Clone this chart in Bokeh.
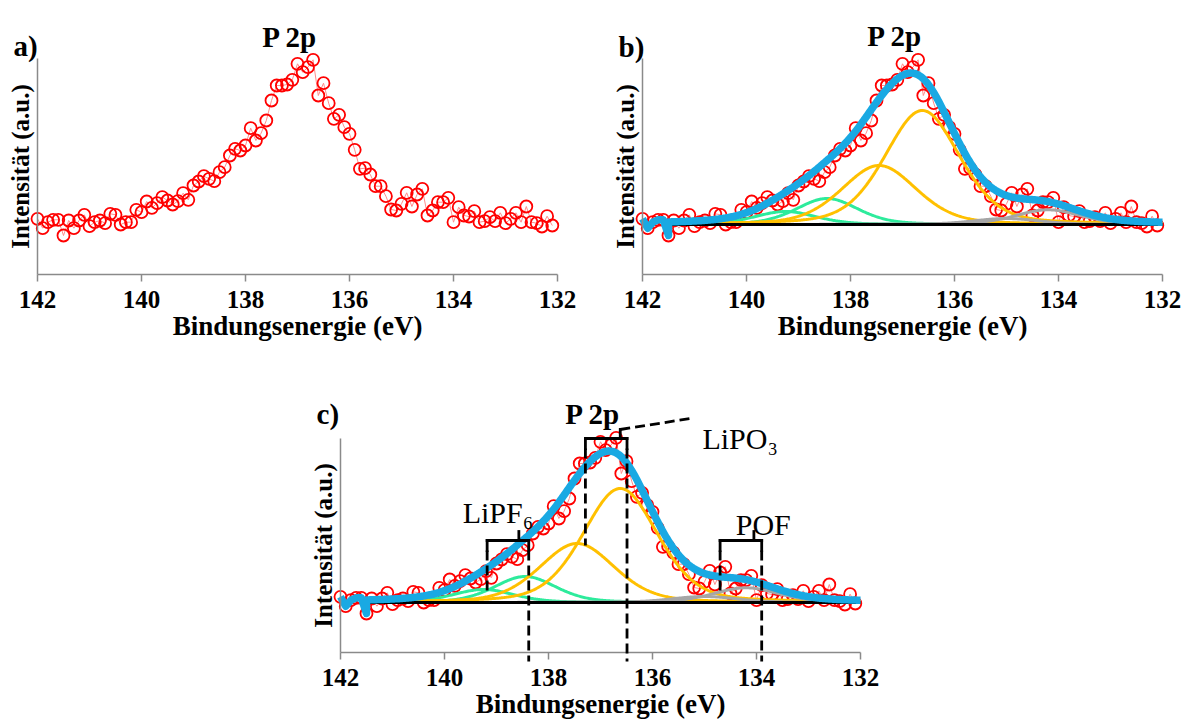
import numpy as np
from bokeh.plotting import figure
from bokeh.models import Range1d, FixedTicker, Label, Arrow, Spacer
from bokeh.layouts import column, row
from bokeh.embed import file_html
from bokeh.resources import INLINE

# ---------------------------------------------------------------- data
# P 2p spectrum, binding energy in eV (0.1 eV step)
energy = [
    142.0, 141.9, 141.8, 141.7, 141.6, 141.5, 141.4, 141.3, 141.2, 141.1,
    141.0, 140.9, 140.8, 140.7, 140.6, 140.5, 140.4, 140.3, 140.2, 140.1,
    140.0, 139.9, 139.8, 139.7, 139.6, 139.5, 139.4, 139.3, 139.2, 139.1,
    139.0, 138.9, 138.8, 138.7, 138.6, 138.5, 138.4, 138.3, 138.2, 138.1,
    138.0, 137.9, 137.8, 137.7, 137.6, 137.5, 137.4, 137.3, 137.2, 137.1,
    137.0, 136.9, 136.8, 136.7, 136.6, 136.5, 136.4, 136.3, 136.2, 136.1,
    136.0, 135.9, 135.8, 135.7, 135.6, 135.5, 135.4, 135.3, 135.2, 135.1,
    135.0, 134.9, 134.8, 134.7, 134.6, 134.5, 134.4, 134.3, 134.2, 134.1,
    134.0, 133.9, 133.8, 133.7, 133.6, 133.5, 133.4, 133.3, 133.2, 133.1,
    133.0, 132.9, 132.8, 132.7, 132.6, 132.5, 132.4, 132.3, 132.2, 132.1,
]
# intensity (a.u.)
intensity = [
    55.7, 46.3, 52.3, 54.7, 54.7, 39.0, 54.0, 46.3, 54.0, 59.7,
    48.3, 52.3, 54.0, 51.3, 60.7, 59.7, 50.0, 52.3, 52.3, 64.7,
    62.3, 73.0, 66.7, 71.3, 77.3, 74.0, 70.0, 73.3, 81.3, 74.7,
    89.0, 93.0, 98.3, 95.7, 93.3, 102.3, 107.3, 119.0, 125.7, 124.0,
    129.0, 146.3, 134.0, 141.3, 154.0, 174.0, 189.0, 189.0, 190.0, 194.7,
    210.7, 202.3, 207.3, 214.7, 179.0, 191.3, 171.3, 155.7, 159.7, 147.3,
    140.7, 124.7, 105.7, 106.3, 100.0, 88.3, 88.3, 78.3, 65.0, 64.0,
    70.7, 81.7, 68.0, 80.0, 85.7, 59.0, 64.0, 72.3, 72.3, 76.7,
    52.3, 67.3, 59.0, 58.0, 63.3, 52.3, 53.3, 57.3, 53.3, 61.7,
    51.3, 55.7, 61.7, 52.3, 68.0, 52.3, 51.3, 48.0, 58.3, 49.0,
]

# peak fit: P 2p3/2 and P 2p1/2 doublets of each species
species = ["LiPF6", "LiPF6", "LiPO3", "LiPO3", "POF", "POF"]
centers = [138.45, 139.25, 136.62, 137.45, 134.20, 135.00]
heights = [26.0, 13.0, 114.0, 59.0, 14.7, 6.0]
fwhm = [1.40, 1.40, 1.70, 1.70, 1.50, 1.50]
background = 50.0            # flat background level
fit_window = (141.5, 132.0)  # energy window of the fit
lorentz_fraction = 0.3

x_ticks = [142, 140, 138, 136, 134, 132]
energy_span = (132, 142)

# ---------------------------------------------------------------- styles
SERIF = "Liberation Serif"
RED = "#FF0000"
THIN_RED = "#FF8C8C"
BLUE = "#19A9E3"
SPECIES_COLOR = {"LiPF6": "#2DEB9C", "LiPO3": "#FFC000", "POF": "#A6A6A6"}
AXIS_GREY = "#8A8A8A"
PX_PER_EV = 52.0


def pseudo_voigt(x, c, h, w, m):
    d2 = (x - c) ** 2 / w ** 2
    return h * ((1 - m) * np.exp(-4 * np.log(2) * d2) + m / (1 + 4 * d2))


def make_panel(width, height, axis_x, axis_y, axis_top, with_fit):
    """axis_x / axis_y: pixel position of the 142 eV / zero-intensity corner."""
    x0 = 142 + axis_x / PX_PER_EV
    x1 = 142 - (width - axis_x) / PX_PER_EV
    p = figure(width=width, height=height, title=None,
               x_range=Range1d(x0, x1),
               y_range=Range1d(axis_y - height, axis_y),
               min_border=0, output_backend="svg", toolbar_location=None)
    p.outline_line_color = None
    p.xgrid.grid_line_color = None
    p.ygrid.grid_line_color = None
    p.background_fill_color = "white"
    p.border_fill_color = "white"

    xa = p.xaxis[0]
    xa.fixed_location = 0
    xa.bounds = energy_span
    xa.ticker = FixedTicker(ticks=x_ticks)
    xa.major_tick_out = 7
    xa.major_tick_in = 0
    xa.minor_tick_line_color = None
    xa.axis_line_color = AXIS_GREY
    xa.axis_line_width = 1.5
    xa.major_tick_line_color = AXIS_GREY
    xa.major_tick_line_width = 1.5
    xa.major_label_text_font = SERIF
    xa.major_label_text_font_style = "bold"
    xa.major_label_text_font_size = "25px"
    xa.major_label_text_color = "black"
    xa.major_label_standoff = 9
    xa.axis_label = "Bindungsenergie (eV)"
    xa.axis_label_text_font = SERIF
    xa.axis_label_text_font_style = "bold"
    xa.axis_label_text_font_size = "27px"
    xa.axis_label_text_color = "black"
    xa.axis_label_standoff = 0

    ya = p.yaxis[0]
    ya.fixed_location = 142
    ya.bounds = (0, axis_top)
    ya.ticker = FixedTicker(ticks=[])
    ya.major_tick_line_color = None
    ya.minor_tick_line_color = None
    ya.major_label_text_font_size = "0px"
    ya.axis_line_color = AXIS_GREY
    ya.axis_line_width = 1.5
    ya.axis_label = "Intensität (a.u.)"
    ya.axis_label_text_font = SERIF
    ya.axis_label_text_font_style = "bold"
    ya.axis_label_text_font_size = "25px"
    ya.axis_label_text_color = "black"
    ya.axis_label_standoff = 4

    # measured spectrum
    p.line(energy, intensity, line_color=THIN_RED, line_width=1)
    p.scatter(energy, intensity, marker="circle", size=12,
              fill_color=None, line_color=RED, line_width=1.8)

    if with_fit:
        fx = np.linspace(fit_window[0], fit_window[1], 500)
        total = np.full_like(fx, background)
        for sp, c, h, w in zip(species, centers, heights, fwhm):
            comp = pseudo_voigt(fx, c, h, w, lorentz_fraction)
            total = total + comp
            p.line(fx, background + comp, line_color=SPECIES_COLOR[sp], line_width=3)
        # background line drawn over the component tails
        p.line(fx, np.full_like(fx, background), line_color="black", line_width=3)
        # envelope: raw data before the fit window, fitted sum inside it
        lead_x = [e for e in energy if e >= fit_window[0]]
        lead_y = intensity[:len(lead_x)]
        p.line(list(lead_x) + list(fx), list(lead_y) + list(total),
               line_color=BLUE, line_width=7.5, line_join="round")
    return p


def add_titles(p, letter, letter_y, title_y):
    p.add_layout(Label(x=142.46, y=letter_y, text=letter, text_font=SERIF,
                       text_font_style="bold", text_font_size="29px",
                       text_color="black",
                       text_baseline="alphabetic", text_align="left"))
    p.add_layout(Label(x=137.68, y=title_y, text="P 2p", text_font=SERIF,
                       text_font_style="bold", text_font_size="29px",
                       text_color="black",
                       text_baseline="alphabetic", text_align="left"))


def seg(p, x0, y0, x1, y1, dash="solid"):
    p.add_layout(Arrow(end=None, start=None, x_start=x0, y_start=y0,
                       x_end=x1, y_end=y1, line_color="black", line_width=2.8,
                       line_dash=dash,
                       line_cap="butt" if dash != "solid" else "square"))


def bracket(p, e_left, e_right, e_tick, level, left_low, right_low):
    seg(p, e_left, level, e_right, level)
    seg(p, e_left, level, e_left, level - 10)
    seg(p, e_right, level, e_right, level - 10)
    seg(p, e_tick, level, e_tick, level + 9)
    seg(p, e_left, level - 10, e_left, left_low, dash="10 5")
    seg(p, e_right, level - 10, e_right, right_low, dash="10 5")


pa = make_panel(595, 370, 37, 274, 216, with_fit=False)
add_titles(pa, "a)", 229, 238)

pb = make_panel(595, 370, 47, 274, 216, with_fit=True)
add_titles(pb, "b)", 228, 239)

pc = make_panel(600, 355, 40, 282, 214, with_fit=True)
add_titles(pc, "c)", 239, 239)

# species assignment in panel c
bracket(pc, 139.18, 138.38, 138.57, 112, 60, -9)
bracket(pc, 137.29, 136.49, 136.62, 214, 107, -9)
bracket(pc, 134.70, 133.90, 134.05, 112, 59, -9)
seg(pc, 136.62, 223, 135.27, 234, dash="10 5")

for txt, ex, iy in [("LiPF\u2086", 139.65, 140), ("LiPO\u2083", 135.04, 214),
                    ("POF", 134.40, 128)]:
    pc.add_layout(Label(x=ex, y=iy, text=txt, text_font=SERIF,
                        text_font_size="30px", text_baseline="alphabetic",
                        text_align="left", text_color="black"))

layout = column(row(pa, pb), row(Spacer(width=300, height=355), pc))

html = file_html(layout, INLINE)
html = html.replace("<head>", "<head><style>html,body{margin:0;padding:0;}</style>", 1)
open("out.html", "w").write(html)
